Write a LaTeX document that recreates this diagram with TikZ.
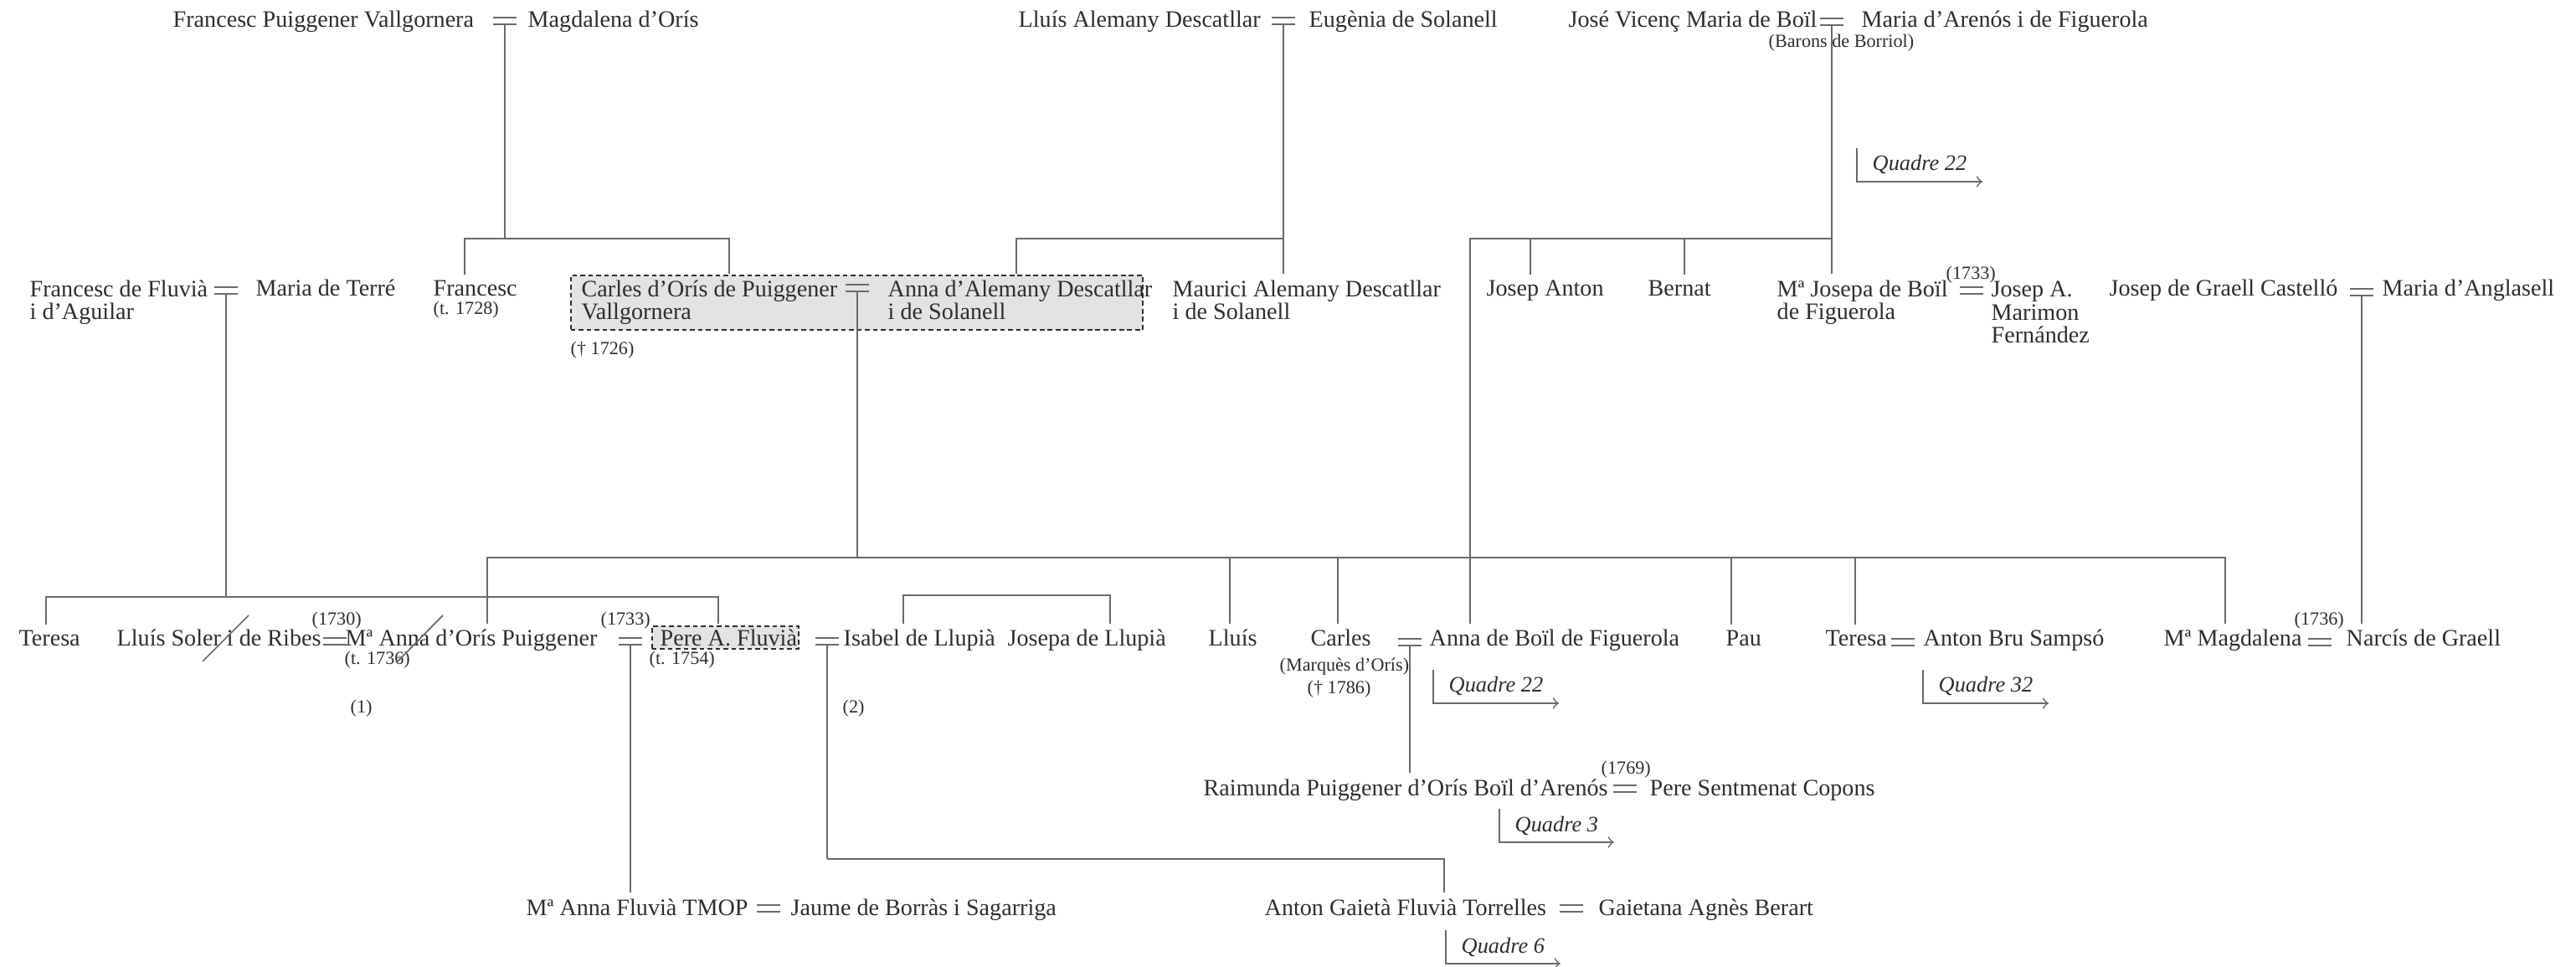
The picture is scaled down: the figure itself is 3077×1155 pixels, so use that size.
\documentclass[tikz,border=0pt]{standalone}
\usepackage{fontspec}
\setmainfont{Liberation Serif}
\usetikzlibrary{calc}
\definecolor{ink}{HTML}{2E2E2E}
\definecolor{rule}{HTML}{6A6A6A}
\definecolor{shade}{HTML}{E2E3E5}

\begin{document}
\begin{tikzpicture}[x=0.01cm,y=-0.01cm,
  every node/.style={text=ink},
  pers/.style={anchor=base west,inner xsep=0pt,inner ysep=0.07cm,align=left,
    font=\fontsize{8pt}{7.95pt}\selectfont},
  note/.style={anchor=base west,inner sep=0pt,font=\fontsize{6.3pt}{7pt}\selectfont},
  conn/.style={draw=rule,line width=0.5pt},
  drop/.style={to path={-| (\tikztotarget)}},
  ref/.style={->,to path={|- (\tikztotarget)}},
  marr/.style={inner sep=0pt,minimum width=0.26cm,minimum height=0.07cm,
    append after command={(\tikzlastnode.north west) edge[conn] (\tikzlastnode.north east)
      (\tikzlastnode.south west) edge[conn] (\tikzlastnode.south east)}},
  hl/.style={draw=ink,fill=shade,dash pattern=on 1.6pt off 1.1pt,line width=0.45pt,
    anchor=north west,inner sep=0pt},
  qref/.style={anchor=base west,inner xsep=0.18cm,inner ysep=0.08cm,
    font=\fontsize{7.5pt}{8pt}\selectfont\itshape}]
  \useasboundingbox (0,0) rectangle (3077,1155);
  \coordinate (bar_1) at (0,285);
  \coordinate (bar_2) at (0,713);
  \coordinate (bar_3) at (0,666);
  \coordinate (bar_5) at (0,1026);

  \node[hl,minimum width=6.83cm,minimum height=0.65cm] (hl_1) at (681,328) {};
  \node[hl,minimum width=1.75cm,minimum height=0.27cm] (hl_2) at (778,747) {};

  \node[pers] (fpv) at (206,33)  {Francesc Puiggener Vallgornera};
  \node[marr] (m_1) at (603,25)  {};
  \node[pers] (mdo) at (630,33)  {Magdalena d’Orís};
  \node[pers] (lad) at (1216,33) {Lluís Alemany Descatllar};
  \node[marr] (m_2) at (1533,25) {};
  \node[pers] (eso) at (1563,33) {Eugènia de Solanell};
  \node[pers] (jvb) at (1873,33) {José Vicenç Maria de Boïl};
  \node[marr] (m_3) at (2188,26) {};
  \node[pers] (mar) at (2223,33) {Maria d’Arenós i de Figuerola};
  \node[note] (bdb) at (2112,57) {(Barons de Borriol)};
  \node[qref] (q_1) at (2218,204) {Quadre 22};

  \node[pers] (ffa) at (35,382)   {Francesc de Fluvià\\i d’Aguilar};
  \node[marr] (m_4) at (270,347)  {};
  \node[pers] (mte) at (305,354)  {Maria de Terré};
  \node[pers] (fra) at (517,354)  {Francesc};
  \node[note] (fra_t) at (517,376) {(t. 1728)};
  \node[pers] (cdo) at (694,382)  {Carles d’Orís de Puiggener\\Vallgornera};
  \node[marr] (m_5) at (1024,344) {};
  \node[pers] (ana) at (1060,382) {Anna d’Alemany Descatllar\\i de Solanell};
  \node[note] (cdo_d) at (681,424) {(† 1726)};
  \node[pers] (mau) at (1400,382) {Maurici Alemany Descatllar\\i de Solanell};
  \node[pers] (jan) at (1775,354) {Josep Anton};
  \node[pers] (ber) at (1968,354) {Bernat};
  \node[pers] (mjb) at (2122,382) {Mª Josepa de Boïl\\de Figuerola};
  \node[note] (y_1733a) at (2324,334) {(1733)};
  \node[marr] (m_6) at (2355,347) {};
  \node[pers] (jam) at (2378,410) {Josep A.\\Marimon\\Fernández};
  \node[pers] (jgc) at (2519,354) {Josep de Graell Castelló};
  \node[marr] (m_7) at (2821,349) {};
  \node[pers] (man) at (2845,354) {Maria d’Anglasell};

  \node[pers] (ter) at (22,772)   {Teresa};
  \node[pers] (lsr) at (139,772)  {Lluís Soler i de Ribes};
  \node[note] (y_1730) at (372,747) {(1730)};
  \node[marr] (m_8) at (400,766)  {};
  \node[pers] (mao) at (412,772)  {Mª Anna d’Orís Puiggener};
  \node[note] (mao_t) at (411,794) {(t. 1736)};
  \node[note] (n_1) at (418,851)  {(1)};
  \node[note] (y_1733b) at (717,747) {(1733)};
  \node[marr] (m_9) at (753,766)  {};
  \node[pers] (paf) at (788,772)  {Pere A. Fluvià};
  \node[note] (paf_t) at (775,794) {(t. 1754)};
  \node[marr] (m_10) at (988,766) {};
  \node[pers] (isa) at (1007,772) {Isabel de Llupià};
  \node[note] (n_2) at (1006,851) {(2)};
  \node[pers] (jll) at (1203,772) {Josepa de Llupià};
  \node[pers] (llu) at (1443,772) {Lluís};
  \node[pers] (car) at (1565,772) {Carles};
  \node[note] (car_m) at (1528,802) {(Marquès d’Orís)};
  \node[note] (car_d) at (1561,828) {(† 1786)};
  \node[marr] (m_11) at (1684,767) {};
  \node[pers] (abf) at (1707,772) {Anna de Boïl de Figuerola};
  \node[qref] (q_2) at (1712,827) {Quadre 22};
  \node[pers] (pau) at (2061,772) {Pau};
  \node[pers] (tes) at (2180,772) {Teresa};
  \node[marr] (m_12) at (2273,767) {};
  \node[pers] (abs) at (2297,772) {Anton Bru Sampsó};
  \node[qref] (q_3) at (2297,827) {Quadre 32};
  \node[pers] (mmg) at (2584,772) {Mª Magdalena};
  \node[note] (y_1736) at (2740,747) {(1736)};
  \node[marr] (m_13) at (2771,767) {};
  \node[pers] (ngr) at (2802,772) {Narcís de Graell};

  \node[pers] (rpo) at (1437,950) {Raimunda Puiggener d’Orís Boïl d’Arenós};
  \node[note] (y_1769) at (1912,925) {(1769)};
  \node[marr] (m_14) at (1941,942) {};
  \node[pers] (psc) at (1970,950) {Pere Sentmenat Copons};
  \node[qref] (q_4) at (1791,993) {Quadre 3};

  \node[pers] (mft) at (628,1093)  {Mª Anna Fluvià TMOP};
  \node[marr] (m_15) at (918,1085) {};
  \node[pers] (jbs) at (944,1093)  {Jaume de Borràs i Sagarriga};
  \node[pers] (agf) at (1510,1093) {Anton Gaietà Fluvià Torrelles};
  \node[marr] (m_16) at (1877,1085) {};
  \node[pers] (gab) at (1909,1093) {Gaietana Agnès Berart};
  \node[qref] (q_5) at (1727,1138) {Quadre 6};

  \path[conn]
    (m_1.south) edge (m_1 |- bar_1)
    (m_1 |- bar_1) edge[drop] ([xshift=0.38cm]fra.north west)
                   edge[drop] ([xshift=1.77cm]cdo.north west)
    (m_2.south) edge (m_2 |- mau.north)
    (m_2 |- bar_1) edge[drop] ([xshift=1.54cm]ana.north west)
    (m_3.south) edge (m_3 |- mjb.north)
    (m_3 |- bar_1) edge[drop] ([xshift=0.53cm]jan.north west)
                   edge[drop] ([xshift=0.44cm]ber.north west)
                   edge[drop] ([xshift=0.49cm]abf.north west)
    (m_4.south) edge (m_4 |- bar_2)
    (m_4 |- bar_2) edge[drop] ([xshift=0.33cm]ter.north west)
                   edge[drop] ([xshift=0.70cm]paf.north west)
    (m_5.south) edge (m_5 |- bar_3)
    (m_5 |- bar_3) edge[drop] ([xshift=1.70cm]mao.north west)
                   edge[drop] ([xshift=0.26cm]llu.north west)
                   edge[drop] ([xshift=0.33cm]car.north west)
                   edge[drop] ([xshift=0.07cm]pau.north west)
                   edge[drop] ([xshift=0.36cm]tes.north west)
                   edge[drop] ([xshift=0.74cm]mmg.north west)
    (m_7.south) edge (m_7 |- ngr.north)
    (m_9.south) edge (m_9 |- mft.north)
    (m_10.south) edge (m_10 |- bar_5)
    (m_10 |- bar_5) edge[drop] ([xshift=2.15cm]agf.north west)
    (m_11.south) edge (m_11 |- rpo.north)
    (q_1.north west) edge[ref] (q_1.south east)
    (q_2.north west) edge[ref] (q_2.south east)
    (q_3.north west) edge[ref] (q_3.south east)
    (q_4.north west) edge[ref] (q_4.south east)
    (q_5.north west) edge[ref] (q_5.south east);
  \draw[conn] ([xshift=0.72cm]isa.north west) -- ++(0,-34) -| ([xshift=1.23cm]jll.north west);
  \draw[conn] (297,735) -- (242,790) (529,735) -- (475,790);
\end{tikzpicture}
\end{document}
